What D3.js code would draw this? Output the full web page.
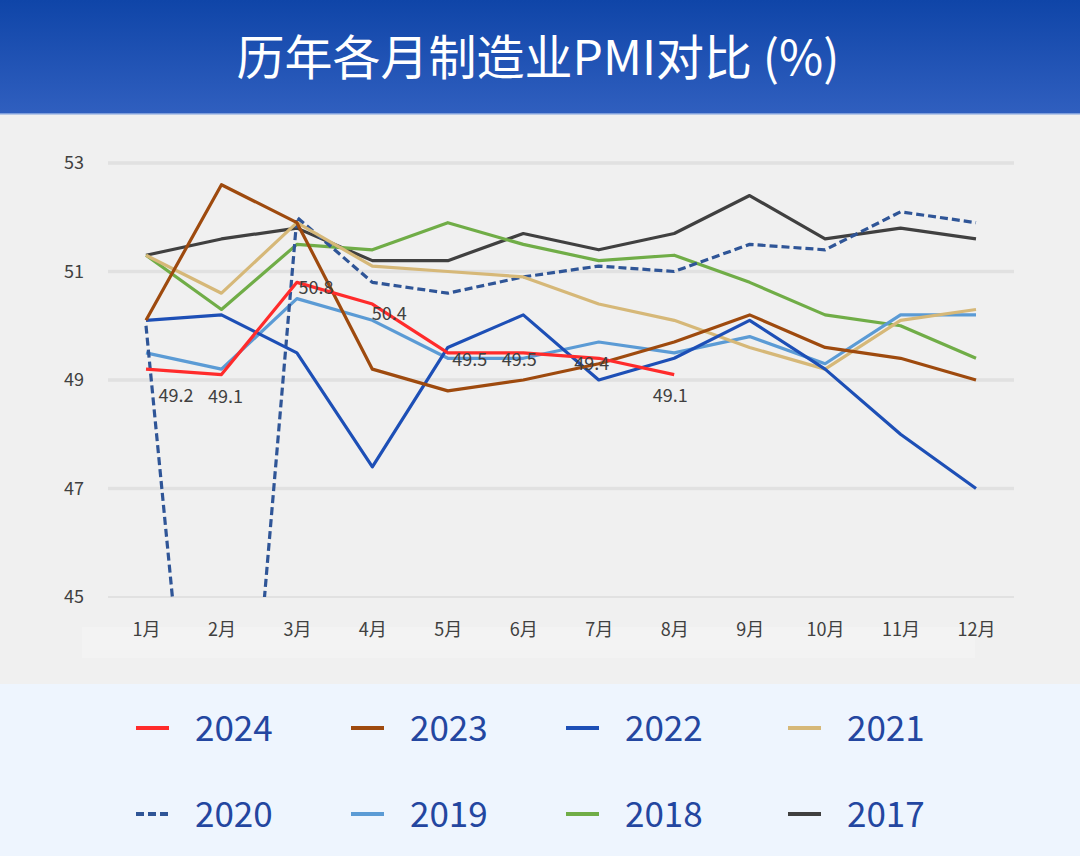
<!DOCTYPE html>
<html><head><meta charset="utf-8">
<script src="https://cdn.jsdelivr.net/npm/d3@7/dist/d3.min.js"></script>
<style>html,body{margin:0;padding:0;background:#f0f0f0}svg{display:block}</style>
</head><body><svg id="c" width="1080" height="856"></svg>
<script>
// ---------- data ----------
const months = ["1月","2月","3月","4月","5月","6月","7月","8月","9月","10月","11月","12月"];
const yTicks = [45, 47, 49, 51, 53];
const years = ["2024","2023","2022","2021","2020","2019","2018","2017"];
const pmi2024 = [49.2, 49.1, 50.8, 50.4, 49.5, 49.5, 49.4, 49.1];
const pmi2023 = [50.1, 52.6, 51.9, 49.2, 48.8, 49.0, 49.3, 49.7, 50.2, 49.6, 49.4, 49.0];
const pmi2022 = [50.1, 50.2, 49.5, 47.4, 49.6, 50.2, 49.0, 49.4, 50.1, 49.2, 48.0, 47.0];
const pmi2021 = [51.3, 50.6, 51.9, 51.1, 51.0, 50.9, 50.4, 50.1, 49.6, 49.2, 50.1, 50.3];
const pmi2020 = [50.0, 35.7, 52.0, 50.8, 50.6, 50.9, 51.1, 51.0, 51.5, 51.4, 52.1, 51.9];
const pmi2019 = [49.5, 49.2, 50.5, 50.1, 49.4, 49.4, 49.7, 49.5, 49.8, 49.3, 50.2, 50.2];
const pmi2018 = [51.3, 50.3, 51.5, 51.4, 51.9, 51.5, 51.2, 51.3, 50.8, 50.2, 50.0, 49.4];
const pmi2017 = [51.3, 51.6, 51.8, 51.2, 51.2, 51.7, 51.4, 51.7, 52.4, 51.6, 51.8, 51.6];
const labels2024 = ["49.2","49.1","50.8","50.4","49.5","49.5","49.4","49.1"];

// ---------- styles ----------
const seriesValues = [pmi2024, pmi2023, pmi2022, pmi2021, pmi2020, pmi2019, pmi2018, pmi2017];
const colors = ["#ff2b2b","#9e4a0e","#1d4fb6","#d6b878","#2f5597","#5b9bd5","#70ad47","#404040"];
const dashes = [null,null,null,null,"8,4",null,null,null];
const labelOffsets = [[30,25],[4,20],[19,4],[17,8],[22,5],[-4,5],[-7,4],[-4,19]];
const FONT = "'Noto Sans CJK SC','Noto Sans',sans-serif";

const svg = d3.select("#c");
const defs = svg.append("defs");
const grad = defs.append("linearGradient").attr("id","hdr").attr("x1",0).attr("y1",0).attr("x2",0).attr("y2",1);
grad.append("stop").attr("offset","0%").attr("stop-color","#0f45a8");
grad.append("stop").attr("offset","100%").attr("stop-color","#305fbf");
defs.append("clipPath").attr("id","plotclip").append("rect")
  .attr("x",90).attr("y",130).attr("width",950).attr("height",467);

// background
svg.append("rect").attr("width",1080).attr("height",856).attr("fill","#f0f0f0");
svg.append("rect").attr("width",1080).attr("height",114).attr("fill","url(#hdr)");
svg.append("rect").attr("y",113).attr("width",1080).attr("height",1.5).attr("fill","#7f9fdc");
svg.append("text").attr("x",538).attr("y",54)
  .attr("text-anchor","middle").attr("dominant-baseline","central")
  .attr("fill","#ffffff").attr("font-family",FONT).attr("font-size",48)
  .text("历年各月制造业PMI对比 (%)");

// scales
const x = d3.scalePoint().domain(months).range([146, 976]);
const y = d3.scaleLinear().domain([45, 53]).range([597, 163]);

// x label band
svg.append("rect").attr("x",82).attr("y",627).attr("width",893).attr("height",31).attr("fill","#f3f3f3");

// gridlines
svg.append("g").selectAll("line").data(yTicks).join("line")
  .attr("x1",108).attr("x2",1014).attr("y1",d=>y(d)).attr("y2",d=>y(d))
  .attr("stroke","#e1e1e1").attr("stroke-width",d=>d===45?2:3.5);

// y axis
const yAxis = d3.axisLeft(y).tickValues(yTicks).tickSize(0).tickPadding(0).tickFormat(d3.format("d"));
const gy = svg.append("g").attr("transform","translate(84,0)").call(yAxis);
gy.select(".domain").remove();
gy.selectAll("text").attr("font-family",FONT).attr("font-size",18).attr("fill","#404040");

// x axis
const xAxis = d3.axisBottom(x).tickSize(0).tickPadding(0);
const gx = svg.append("g").attr("transform","translate(0,623)").call(xAxis);
gx.select(".domain").remove();
gx.selectAll("text").attr("font-family",FONT).attr("font-size",18).attr("fill","#404040");

// lines
const line = d3.line().x((d,i)=>x(months[i])).y(d=>y(d));
const plot = svg.append("g").attr("clip-path","url(#plotclip)");
const order = d3.range(years.length).reverse();
order.forEach(k=>{
  plot.append("path").datum(seriesValues[k])
    .attr("d",line).attr("fill","none")
    .attr("stroke",colors[k]).attr("stroke-width",3.2)
    .attr("stroke-linejoin","round")
    .attr("stroke-dasharray",dashes[k]);
});

// data labels 2024
svg.append("g").selectAll("text").data(pmi2024).join("text")
  .attr("x",(d,i)=>x(months[i])+labelOffsets[i][0])
  .attr("y",(d,i)=>y(d)+labelOffsets[i][1])
  .attr("text-anchor","middle").attr("dominant-baseline","central")
  .attr("font-family",FONT).attr("font-size",18).attr("fill","#404040")
  .text((d,i)=>labels2024[i]);

// legend
svg.append("rect").attr("y",684).attr("width",1080).attr("height",172).attr("fill","#eef5fe");
const colX = [136, 351, 566, 788];
const rowY = [728, 814];
const lg = svg.append("g");
years.forEach((yr,k)=>{
  const cx = colX[k%4], cy = rowY[Math.floor(k/4)];
  lg.append("line").attr("x1",cx).attr("x2",cx+33).attr("y1",cy).attr("y2",cy)
    .attr("stroke",colors[k]).attr("stroke-width",4).attr("stroke-dasharray",dashes[k]);
  lg.append("text").attr("x",cx+59).attr("y",cy-3).attr("dominant-baseline","central")
    .attr("font-family",FONT).attr("font-size",35).attr("fill","#2346a0").text(yr);
});
</script>
</body></html>
